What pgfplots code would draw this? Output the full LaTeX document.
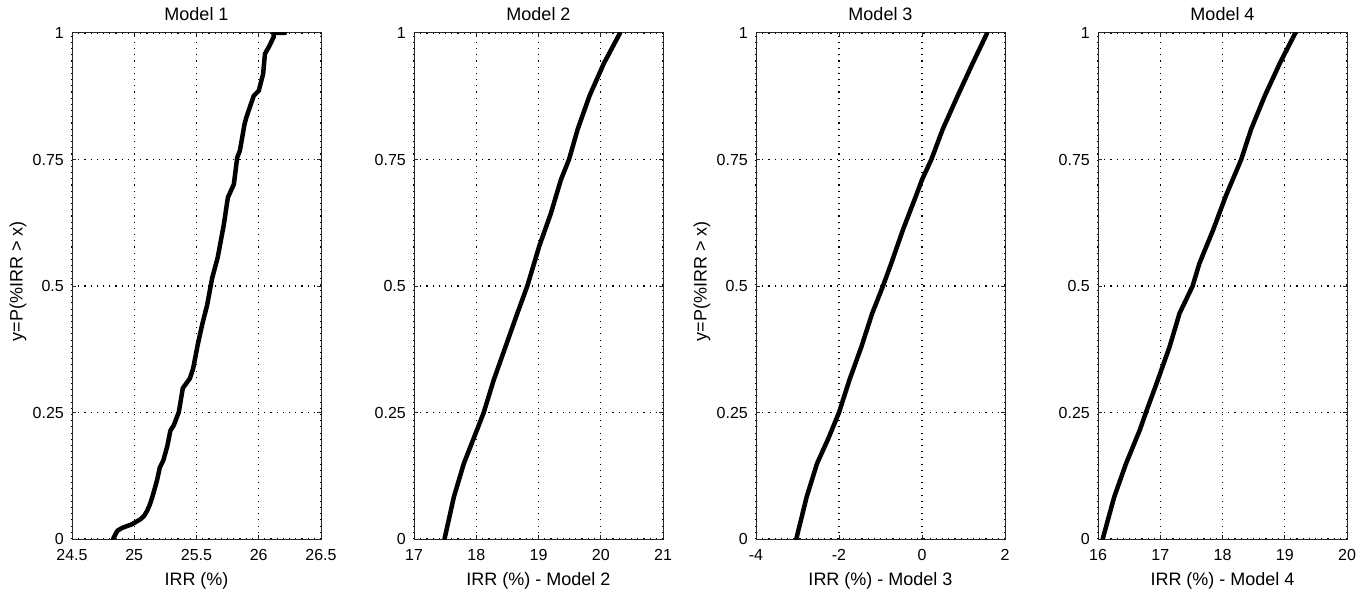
\documentclass[border=0pt]{standalone}
\usepackage{pgfplots}
\pgfplotsset{compat=1.18}
\usepackage{pgfplotstable}
\usepackage{fontspec}
\setmainfont{Liberation Sans}

\pgfplotstableread{
x y
24.83 0
24.863 0.016
24.903 0.022
24.98 0.029
25.05 0.039
25.08 0.046
25.104 0.056
25.125 0.068
25.144 0.082
25.165 0.100
25.184 0.117
25.205 0.141
25.233 0.155
25.265 0.183
25.29 0.214
25.318 0.225
25.358 0.251
25.39 0.298
25.446 0.317
25.473 0.337
25.51 0.384
25.545 0.423
25.586 0.463
25.626 0.516
25.67 0.556
25.72 0.622
25.752 0.675
25.80 0.701
25.827 0.754
25.848 0.767
25.886 0.820
25.90 0.833
25.96 0.876
26.0 0.886
26.035 0.919
26.05 0.959
26.08 0.972
26.12 0.992
26.12 1
26.21 1
}\modelone

\pgfplotstableread{
x y
17.49 0
17.64 0.083
17.80 0.149
18.01 0.215
18.12 0.25
18.28 0.314
18.47 0.38
18.66 0.446
18.82 0.5
18.93 0.545
19.01 0.578
19.20 0.644
19.36 0.71
19.49 0.75
19.63 0.81
19.82 0.876
20.05 0.94
20.31 1
}\modeltwo

\pgfplotstableread{
x y
-3.03 0
-2.78 0.083
-2.53 0.149
-2.25 0.2
-2.00 0.25
-1.75 0.314
-1.46 0.38
-1.20 0.446
-0.94 0.5
-0.74 0.545
-0.46 0.611
-0.15 0.677
0.00 0.71
0.225 0.75
0.50 0.81
0.86 0.876
1.22 0.94
1.57 1
}\modelthree

\pgfplotstableread{
x y
16.075 0
16.26 0.083
16.45 0.149
16.67 0.215
16.77 0.25
16.96 0.314
17.15 0.38
17.31 0.446
17.52 0.5
17.63 0.545
17.85 0.611
18.05 0.677
18.30 0.75
18.46 0.81
18.68 0.876
18.92 0.94
19.17 1
}\modelfour

\pgfplotsset{
  every axis title shift=0pt,
  mstyle/.style={
    scale only axis, width=249pt, height=506pt, anchor=south west,
    ymin=0, ymax=1, ytick={0,0.25,0.5,0.75,1},
    tick align=inside, major tick length=4pt,
    axis line style={black!85, line width=1pt},
    every tick/.style={black!85, line width=1pt},
    grid=major,
    major grid style={black, line width=1.1pt, dash pattern=on 1.1pt off 5.1pt},
    /pgf/number format/assume math mode=true,
    ticklabel style={font=\fontsize{16}{16}\selectfont, inner sep=0pt},
    yticklabel style={xshift=-8pt},
    xticklabel style={yshift=-10pt},
    title style={font=\fontsize{18}{18}\selectfont, at={(axis description cs:0.5,1)}, anchor=base, yshift=12.5pt, inner sep=0pt},
    xlabel style={font=\fontsize{18}{18}\selectfont, at={(axis description cs:0.5,0)}, anchor=base, yshift=-46pt, inner sep=0pt},
    ylabel style={font=\fontsize{18}{18}\selectfont, at={(axis description cs:-0.198,0.509)}, anchor=base, inner sep=0pt},
  },
  curve/.style={black, line width=4.5pt, mark=none, line join=round, line cap=round},
}

\begin{document}
\begin{tikzpicture}
\useasboundingbox (0pt,0pt) rectangle (1359pt,595pt);

\begin{axis}[mstyle, at={(72pt,56pt)},
  xmin=24.5, xmax=26.5, xtick={24.5,25,25.5,26,26.5},
  xticklabels={24.5,25,25.5,26,26.5},
  title={Model 1}, xlabel={IRR (\%)}, ylabel={y=P(\%IRR > x)}]
\addplot[curve] table[x=x,y=y]{\modelone};
\end{axis}

\begin{axis}[mstyle, at={(414pt,56pt)},
  xmin=17, xmax=21, xtick={17,18,19,20,21},
  title={Model 2}, xlabel={IRR (\%) - Model 2}]
\addplot[curve] table[x=x,y=y]{\modeltwo};
\end{axis}

\begin{axis}[mstyle, at={(756pt,56pt)},
  xmin=-4, xmax=2, xtick={-4,-2,0,2},
  xticklabels={-4,-2,0,2},
  title={Model 3}, xlabel={IRR (\%) - Model 3}, ylabel={y=P(\%IRR > x)}]
\addplot[curve] table[x=x,y=y]{\modelthree};
\end{axis}

\begin{axis}[mstyle, at={(1098pt,56pt)},
  xmin=16, xmax=20, xtick={16,17,18,19,20},
  title={Model 4}, xlabel={IRR (\%) - Model 4}]
\addplot[curve] table[x=x,y=y]{\modelfour};
\end{axis}
\end{tikzpicture}
\end{document}
